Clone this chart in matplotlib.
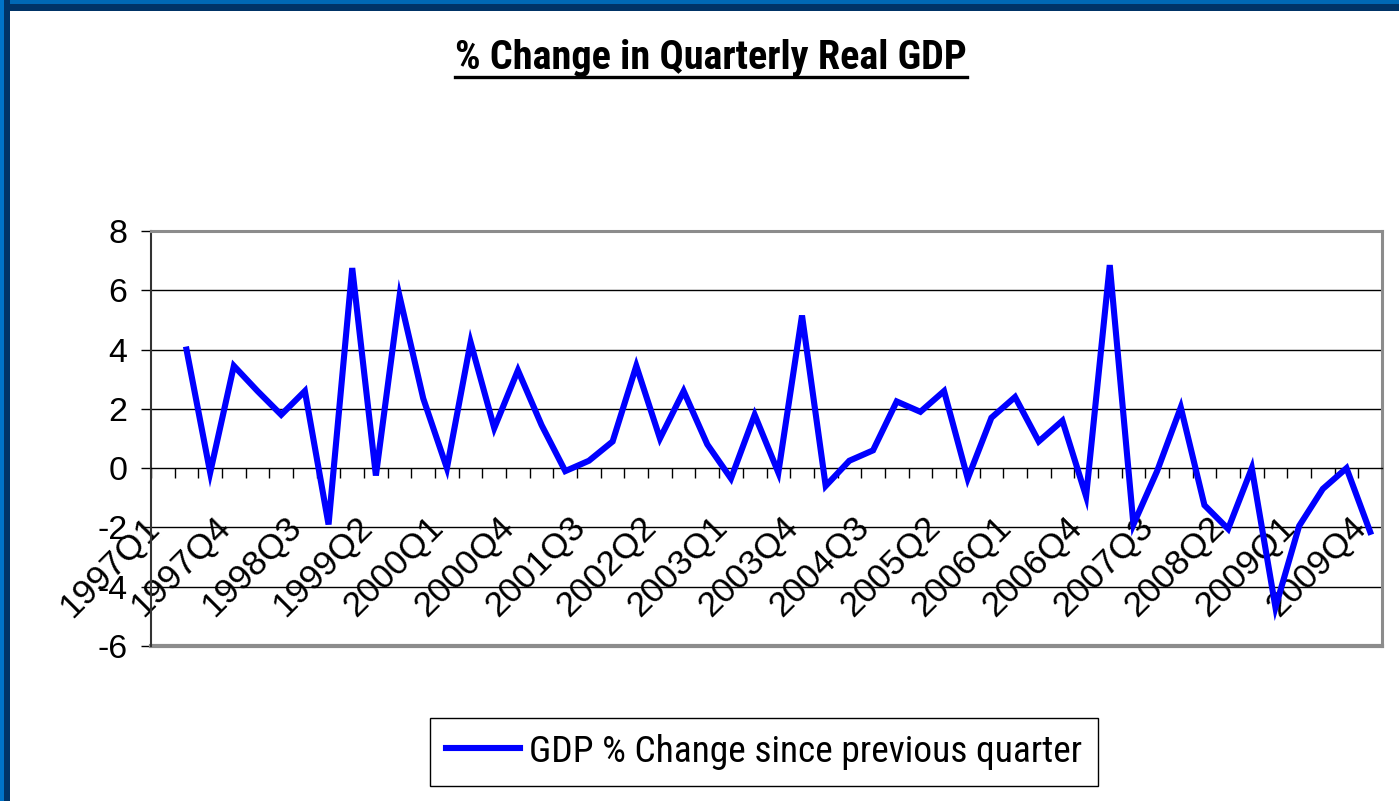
import matplotlib
matplotlib.use('Agg')
import matplotlib.pyplot as plt
import matplotlib.transforms as mtransforms
from matplotlib import font_manager
from matplotlib.patches import Rectangle
from matplotlib.lines import Line2D
import numpy as np

years = list(range(1997, 2010))
quarters = [f"{y}Q{q}" for y in years for q in range(1, 5)]

# % change since previous quarter (first quarter has no value)
gdp_change = [np.nan,
              4.0, -0.15, 3.45, 2.6, 1.8, 2.6, -1.9, 6.75, -0.25, 5.8,
              2.35, 0.0, 4.25, 1.35, 3.3, 1.45, -0.1, 0.25, 0.9, 3.45,
              1.0, 2.6, 0.8, -0.35, 1.8, -0.15, 5.15, -0.6, 0.25, 0.6,
              2.25, 1.9, 2.6, -0.35, 1.7, 2.4, 0.9, 1.6, -0.95, 6.85,
              -1.9, -0.1, 2.05, -1.25, -2.05, 0.0, -4.7, -1.95, -0.7, 0.0,
              -2.15]

y_ticks = [8, 6, 4, 2, 0, -2, -4, -6]
grid_vals = [6, 4, 2, -2, -4]

title_txt = "% Change in Quarterly Real GDP"
series_name = "GDP % Change since previous quarter"


def has_font(name):
    try:
        font_manager.findfont(name, fallback_to_default=False)
        return True
    except ValueError:
        return False


# Arial Narrow look-alike if there is one
narrow = [f for f in ['Liberation Sans Narrow', 'Roboto Condensed', 'DejaVu Sans Condensed']
          if has_font(f)]
narrow_fam = narrow[:1] + ['Liberation Sans', 'DejaVu Sans']

W, H = 1399, 801
fig = plt.figure(figsize=(W / 100, H / 100), dpi=100)
fig.patch.set_facecolor('white')

# blue frame on top / left edges
fig.patches.append(Rectangle((0, 1 - 11 / H), 1, 11 / H, transform=fig.transFigure,
                             facecolor='#003366', edgecolor='none', zorder=0))
fig.patches.append(Rectangle((0, 1 - 4 / H), 1, 4 / H, transform=fig.transFigure,
                             facecolor='#0068b4', edgecolor='none', zorder=0))
fig.patches.append(Rectangle((0, 0), 10 / W, 1, transform=fig.transFigure,
                             facecolor='#003366', edgecolor='none', zorder=0))
fig.patches.append(Rectangle((0, 0), 4 / W, 1, transform=fig.transFigure,
                             facecolor='#0073c8', edgecolor='none', zorder=0))

ax = fig.add_axes([151 / W, 1 - 646 / H, (1382 - 151) / W, (646 - 231) / H])

x = np.arange(len(quarters))
line, = ax.plot(x, gdp_change, color='#0000ff', lw=4.4, solid_joinstyle='miter', zorder=3)

ax.set_xlim(-0.5, len(quarters) - 0.5)
ax.set_ylim(-6, 8)

for g in grid_vals:
    ax.axhline(g, color='black', lw=1, zorder=1)

# borders
for s in ['top', 'right']:
    ax.spines[s].set_color('#8c8c8c')
    ax.spines[s].set_linewidth(2.2)
ax.spines['left'].set_color('#333333')
ax.spines['left'].set_linewidth(1.5)
ax.spines['bottom'].set_position(('data', 0))
ax.spines['bottom'].set_color('black')
ax.spines['bottom'].set_linewidth(1)
ax.axhline(-6, color='#8c8c8c', lw=3, zorder=2, clip_on=False)

ax.set_yticks(y_ticks)
ax.set_yticklabels([str(v) for v in y_ticks])
ax.tick_params(axis='y', direction='out', length=7, width=1, pad=10, labelsize=24.5,
               colors='black')

ax.set_xticks(x[::3])
ax.set_xticklabels(quarters[::3], rotation=45, ha='right', va='center',
                   rotation_mode='anchor')
ax.set_xticks(np.arange(len(quarters) + 1) - 0.5, minor=True)
ax.tick_params(axis='x', which='major', length=0, pad=39, labelsize=25.5)
ax.tick_params(axis='x', which='minor', direction='out', length=7, width=1)

shift = mtransforms.ScaledTranslation(-9 / 100, 0, fig.dpi_scale_trans)
for lab in ax.get_xticklabels():
    lab.set_transform(lab.get_transform() + shift)
for lab in ax.get_xticklabels() + ax.get_yticklabels():
    lab.set_family(['Liberation Sans', 'DejaVu Sans'])

t = fig.text(711 / W, 1 - 58 / H, title_txt, ha='center', va='center',
             fontsize=28, fontweight='bold', family=narrow_fam)

leg = fig.legend([line], [series_name], loc='center', bbox_to_anchor=(764 / W, 1 - 752 / H),
                 frameon=True, fancybox=False, shadow=False, framealpha=1, edgecolor='black',
                 handlelength=1.9, handletextpad=0.25, borderpad=0.4,
                 prop={'family': narrow_fam, 'size': 28})
leg.get_frame().set_linewidth(1)

# fit title / legend text to the widths in the original
fig.canvas.draw()
r = fig.canvas.get_renderer()
tw = t.get_window_extent(r).width
t.set_fontsize(28 * 513 / tw)
lt = leg.get_texts()[0]
lw_ = lt.get_window_extent(r).width
lt.set_fontsize(28 * 553 / lw_)
fig.canvas.draw()

# underline the title
bb = t.get_window_extent(r).transformed(fig.transFigure.inverted())
fig.lines.append(Line2D([bb.x0, bb.x1], [1 - 77 / H, 1 - 77 / H],
                        transform=fig.transFigure, color='black', lw=2.4))

fig.savefig('out.png', dpi=100)
